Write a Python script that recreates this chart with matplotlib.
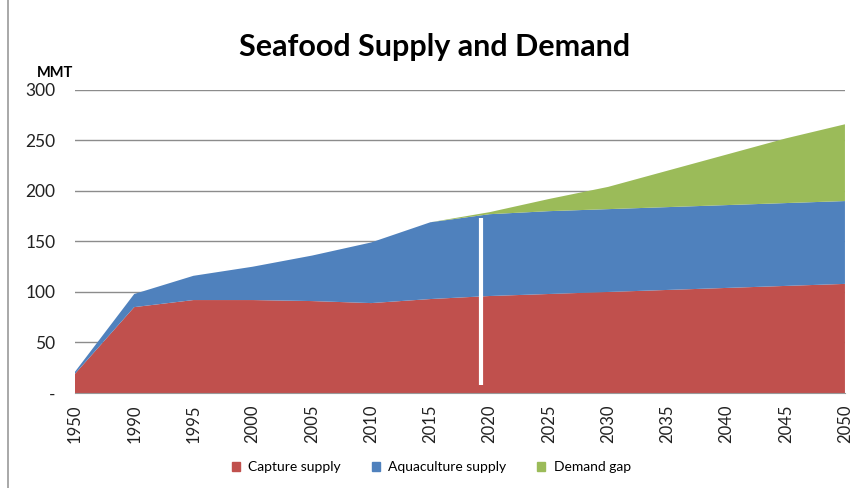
import matplotlib
matplotlib.use("Agg")
import matplotlib.pyplot as plt
from matplotlib.lines import Line2D

plt.rcParams['font.family'] = ['Lato', 'DejaVu Sans']

years = ['1950', '1990', '1995', '2000', '2005', '2010', '2015', '2020',
         '2025', '2030', '2035', '2040', '2045', '2050']
capture = [19, 85, 92, 92, 91, 89, 93, 96, 98, 100, 102, 104, 106, 108]
aquaculture = [2, 13, 24, 33, 45, 60, 76, 81, 82, 82, 82, 82, 82, 82]
demand_gap = [0, 0, 0, 0, 0, 0, 0, 2, 12, 22, 36, 50, 64, 76]

# white marker line (present day) between 2015 and 2020
today_pos = 6.85
today_range = (8, 173)

red = '#C0504D'
blue = '#4F81BD'
green = '#9BBB59'

fig = plt.figure(figsize=(8.54, 4.88), dpi=100)
ax = fig.add_axes([0.0878, 0.1947, 0.9016, 0.621])

x = list(range(len(years)))
ax.stackplot(x, capture, aquaculture, demand_gap,
             colors=[red, blue, green],
             labels=['Capture supply', 'Aquaculture supply', 'Demand gap'],
             zorder=2)
ax.plot([today_pos, today_pos], today_range, color='white', lw=3,
        solid_capstyle='butt', zorder=3)

ax.set_xlim(0, len(years) - 1)
ax.set_ylim(0, 300)
ax.set_xticks(x)
ax.set_xticklabels(years, rotation=90, fontsize=12, color='#222222')
ax.set_yticks([0, 50, 100, 150, 200, 250, 300])
ax.set_yticklabels(['-', '50', '100', '150', '200', '250', '300'],
                   fontsize=12.5, color='#222222')
ax.tick_params(length=0, pad=14)
ax.tick_params(axis='x', pad=8)
ax.grid(axis='y', color='#8c8c8c', lw=1, zorder=0)
ax.set_axisbelow(True)
for s in ['top', 'right', 'left']:
    ax.spines[s].set_visible(False)
ax.spines['bottom'].set_color('#999999')

fig.text(0.509, 0.903, 'Seafood Supply and Demand', ha='center', va='center',
         fontsize=22, fontweight='bold')
fig.text(0.064, 0.85, 'MMT', ha='center', va='center', fontsize=10.5,
         fontweight='bold')

handles = [plt.Rectangle((0, 0), 1, 1, color=c) for c in [red, blue, green]]
fig.legend(handles, ['Capture supply', 'Aquaculture supply', 'Demand gap'],
           loc='center', bbox_to_anchor=(0.505, 0.043), ncol=3, frameon=False,
           fontsize=10, handlelength=0.6, handleheight=0.6, columnspacing=2.2,
           handletextpad=0.6)

fig.add_artist(Line2D([0.009, 0.009], [0, 1], color='#999999', lw=1.2))

fig.savefig('out.png', dpi=100)
